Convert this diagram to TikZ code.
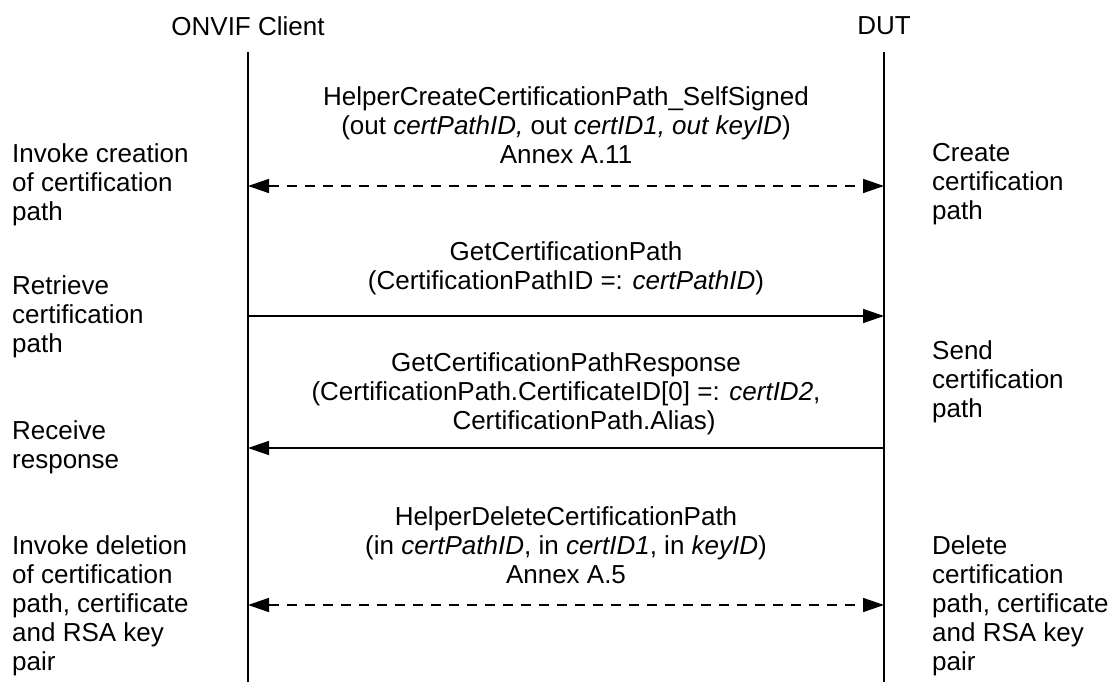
\documentclass[tikz,border=0pt]{standalone}
\usepackage{fontspec}
\setmainfont{Liberation Sans}
\usetikzlibrary{arrows.meta,positioning}

\tikzset{
  txt/.style={font=\fontsize{26}{29}\selectfont, inner sep=0pt},
  lbl/.style={txt, align=left, anchor=north west},
  msg/.style={txt, align=center, anchor=north},
  life/.style={line width=1.5pt},
  tip/.style={-{Triangle[length=21pt,width=14pt]}},
  call/.style={life, tip},
  helper/.style={life, dash pattern=on 10pt off 8pt, {Triangle[length=21pt,width=14pt]}-{Triangle[length=21pt,width=14pt]}}
}

\begin{document}
\begin{tikzpicture}[x=1pt,y=-1pt]
	\useasboundingbox (0,0) rectangle (1120,682);
	% lifelines
	\node[txt] (client) at (248,26) {ONVIF Client};
	\node[txt] (dut) at (884,26) {DUT};
	\coordinate (c0) at (248,52);
	\coordinate (cN) at (248,682);
	\coordinate (d0) at (884,52);
	\coordinate (dN) at (884,682);
	\draw[life] (c0) -- (cN);
	\draw[life] (d0) -- (dN);
	% message ends
	\coordinate (c1) at (248,186); \coordinate (d1) at (884,186);
	\coordinate (c2) at (248,316); \coordinate (d2) at (884,316);
	\coordinate (c3) at (248,448); \coordinate (d3) at (884,448);
	\coordinate (c4) at (248,605); \coordinate (d4) at (884,605);
	% messages
	\node[msg] (m1) at (566,86) {HelperCreateCertificationPath\_SelfSigned\\
		(out \textit{certPathID,} out \textit{certID1, out keyID})\\ Annex A.11};
	\node[msg] (m2) at (566,241) {GetCertificationPath\\
		(CertificationPathID =: \textit{certPathID})};
	\node[msg] (m3) at (566,352) {GetCertificationPathResponse\\
		(CertificationPath.CertificateID[0] =: \textit{certID2},\\
		\hspace*{36pt}CertificationPath.Alias)};
	\node[msg] (m4) at (566,506) {HelperDeleteCertificationPath\\
		(in \textit{certPathID}, in \textit{certID1}, in \textit{keyID})\\ Annex A.5};
	\draw[helper] (c1) -- (d1);
	\draw[call] (c2) -- (d2);
	\draw[call] (d3) -- (c3);
	\draw[helper] (c4) -- (d4);
	% client side
	\node[lbl] (a1) at (12,143) {Invoke creation\\of certification\\path};
	\node[lbl] (a2) at (12,275) {Retrieve\\certification\\path};
	\node[lbl] (a3) at (12,420) {Receive\\response};
	\node[lbl] (a4) at (12,535) {Invoke deletion\\of certification\\path, certificate\\and RSA key\\pair};
	% DUT side
	\node[lbl] (b1) at (932,143) {Create\\certification\\path};
	\node[lbl] (b2) at (932,340) {Send\\certification\\path};
	\node[lbl] (b3) at (932,535) {Delete\\certification\\path, certificate\\and RSA key\\pair};
\end{tikzpicture}
\end{document}
